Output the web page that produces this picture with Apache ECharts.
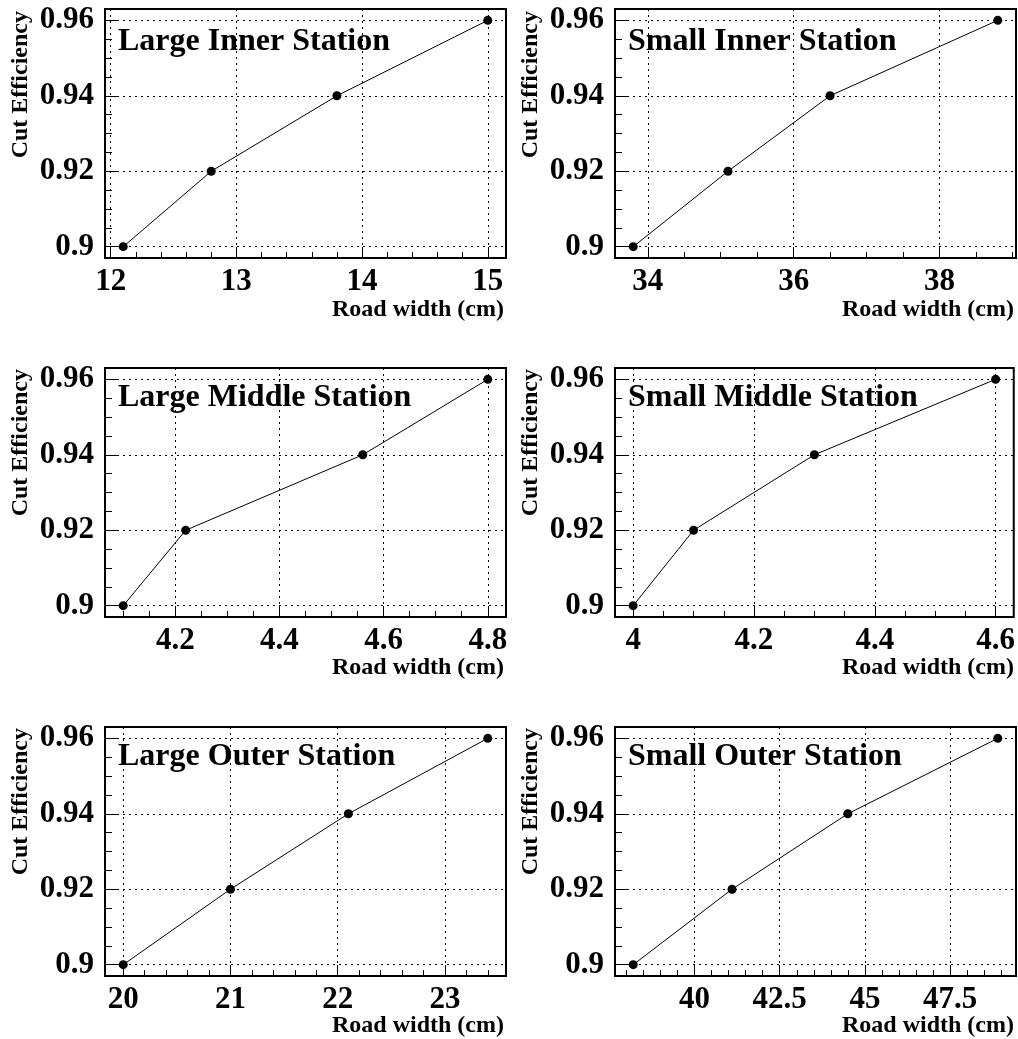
<!DOCTYPE html>
<html>
<head>
<meta charset="utf-8">
<script src="https://cdn.jsdelivr.net/npm/echarts@6/dist/echarts.min.js"></script>
<style>
  html, body { margin: 0; padding: 0; background: #fff; }
  #chart { width: 1018px; height: 1039px; }
</style>
</head>
<body>
<div id="chart"></div>
<script>
// Cut efficiency working points, shared by every station
const efficiency = [0.90, 0.92, 0.94, 0.96];

// Road width (cm) needed for each efficiency, one list per station
const largeInnerWidth  = [12.1, 12.8, 13.8, 15.0];
const smallInnerWidth  = [33.8, 35.1, 36.5, 38.8];
const largeMiddleWidth = [4.1, 4.22, 4.56, 4.8];
const smallMiddleWidth = [4.0, 4.1, 4.3, 4.6];
const largeOuterWidth  = [20.0, 21.0, 22.1, 23.4];
const smallOuterWidth  = [38.2, 41.1, 44.5, 48.9];

// Labelled x ticks per station
const largeInnerTicks  = [12, 13, 14, 15];
const smallInnerTicks  = [34, 36, 38];
const largeMiddleTicks = [4.2, 4.4, 4.6, 4.8];
const smallMiddleTicks = [4.0, 4.2, 4.4, 4.6];
const largeOuterTicks  = [20, 21, 22, 23];
const smallOuterTicks  = [40, 42.5, 45, 47.5];

// Labelled y ticks
const yTicks = [0.90, 0.92, 0.94, 0.96];

const stationNames = [
  'Large Inner Station', 'Small Inner Station',
  'Large Middle Station', 'Small Middle Station',
  'Large Outer Station', 'Small Outer Station'
];

const panels = [
  { name: stationNames[0], x: largeInnerWidth,  ticks: largeInnerTicks,  minor: 0.2 },
  { name: stationNames[1], x: smallInnerWidth,  ticks: smallInnerTicks,  minor: 0.5 },
  { name: stationNames[2], x: largeMiddleWidth, ticks: largeMiddleTicks, minor: 0.05 },
  { name: stationNames[3], x: smallMiddleWidth, ticks: smallMiddleTicks, minor: 0.05 },
  { name: stationNames[4], x: largeOuterWidth,  ticks: largeOuterTicks,  minor: 0.2 },
  { name: stationNames[5], x: smallOuterWidth,  ticks: smallOuterTicks,  minor: 0.5 }
];
const yMinorStep = 0.005;

// Layout of the 3x2 frames (pixels)
const colLeft = [105, 615];
const rowTop = [9, 368, 727];
const frameW = 401;
const frameH = 249;
const titleY = [42, 398, 757];
const xTitleY = [310, 668, 1026];
const yTitleEnd = [11, 369, 728];

const FONT = '"Liberation Serif", "Times New Roman", serif';

function round6(v) { return Math.round(v * 1e6) / 1e6; }

// Axis range padded by 5% of the data span on each side
function paddedRange(values) {
  const lo = Math.min(...values), hi = Math.max(...values);
  const pad = 0.05 * (hi - lo);
  return [round6(lo - pad), round6(hi + pad)];
}

// Minor tick positions at a fixed step inside [min, max], skipping labelled ticks
function minorTicks(min, max, step, major) {
  const out = [];
  for (let v = Math.ceil(min / step - 1e-9) * step; v <= max + 1e-9; v += step) {
    const r = round6(v);
    if (!major.some(m => Math.abs(m - r) < 1e-9)) out.push(r);
  }
  return out;
}

const [yMin, yMax] = paddedRange(efficiency);
const yMinor = minorTicks(yMin, yMax, yMinorStep, yTicks);

const grids = [], xAxes = [], yAxes = [], series = [], graphics = [];

const labelStyle = { color: '#000', fontFamily: FONT, fontWeight: 'bold', fontSize: 31 };
const gridLine = { show: true, lineStyle: { color: '#000', width: 1, type: [2, 4] } };

panels.forEach((p, i) => {
  const col = i % 2, row = Math.floor(i / 2);
  const left = colLeft[col], top = rowTop[row];
  grids.push({
    left: left, top: top, width: frameW, height: frameH,
    show: true, borderColor: '#000', borderWidth: 2, backgroundColor: 'transparent'
  });

  const [xMin, xMax] = paddedRange(p.x);
  const xMinor = minorTicks(xMin, xMax, p.minor, p.ticks);

  // labelled x axis
  xAxes.push({
    type: 'value', gridIndex: i, min: xMin, max: xMax, position: 'bottom',
    axisLine: { show: false },
    axisTick: { show: true, inside: true, length: 11, customValues: p.ticks,
                lineStyle: { color: '#000', width: 1 } },
    axisLabel: Object.assign({ customValues: p.ticks, margin: 8 }, labelStyle),
    splitLine: gridLine
  });
  // minor x ticks
  xAxes.push({
    type: 'value', gridIndex: i, min: xMin, max: xMax, position: 'bottom',
    axisLine: { show: false },
    axisTick: { show: true, inside: true, length: 6, customValues: xMinor,
                lineStyle: { color: '#000', width: 1 } },
    axisLabel: { show: false },
    splitLine: { show: false }
  });
  // labelled y axis
  yAxes.push({
    type: 'value', gridIndex: i, min: yMin, max: yMax, position: 'left',
    axisLine: { show: false },
    axisTick: { show: true, inside: true, length: 12, customValues: yTicks,
                lineStyle: { color: '#000', width: 1 } },
    axisLabel: Object.assign({ customValues: yTicks, margin: 11 }, labelStyle),
    splitLine: gridLine
  });
  // minor y ticks
  yAxes.push({
    type: 'value', gridIndex: i, min: yMin, max: yMax, position: 'left',
    axisLine: { show: false },
    axisTick: { show: true, inside: true, length: 7, customValues: yMinor,
                lineStyle: { color: '#000', width: 1 } },
    axisLabel: { show: false },
    splitLine: { show: false }
  });

  series.push({
    type: 'line', name: p.name,
    xAxisIndex: 2 * i, yAxisIndex: 2 * i,
    data: p.x.map((w, k) => [w, efficiency[k]]),
    symbol: 'circle', symbolSize: 9, showAllSymbol: true,
    lineStyle: { color: '#000', width: 1 },
    itemStyle: { color: '#000' },
    silent: true, animation: false, z: 5
  });

  // station name inside the frame
  graphics.push({
    type: 'text', x: left + 13, y: titleY[row], z: 10,
    style: { text: p.name, fill: '#000', align: 'left', verticalAlign: 'middle',
             font: 'bold 32px ' + FONT }
  });
  // x axis title, right aligned under the frame
  graphics.push({
    type: 'text', x: left + frameW - 2, y: xTitleY[row],
    style: { text: 'Road width (cm)', fill: '#000', align: 'right', verticalAlign: 'middle',
             font: 'bold 24px ' + FONT }
  });
  // y axis title, rotated, ending at the top of the frame
  graphics.push({
    type: 'text', x: left - 84.5, y: yTitleEnd[row], rotation: Math.PI / 2,
    style: { text: 'Cut Efficiency', fill: '#000', align: 'right', verticalAlign: 'middle',
             font: 'bold 24px ' + FONT }
  });
});

const chart = echarts.init(document.getElementById('chart'), null, { renderer: 'canvas' });
chart.setOption({
  backgroundColor: '#fff',
  animation: false,
  grid: grids,
  xAxis: xAxes,
  yAxis: yAxes,
  series: series,
  graphic: graphics
});
</script>
</body>
</html>
